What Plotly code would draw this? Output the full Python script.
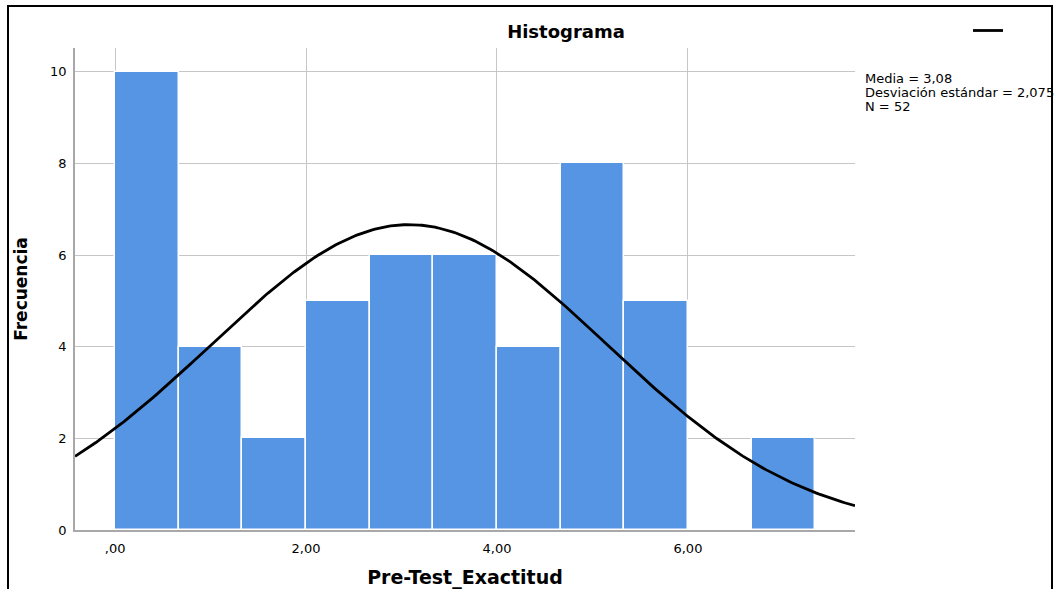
import numpy as np
import plotly.graph_objects as go

# ---- data ----
BIN_START = 0.0
BIN_WIDTH = 2.0 / 3.0
COUNTS = [10, 4, 2, 5, 6, 6, 4, 8, 5, 0, 2]
MEAN = 3.08
STD = 2.075
N = 52
X_TICKS = [0, 2, 4, 6]
X_TICK_LABELS = [",00", "2,00", "4,00", "6,00"]
Y_TICKS = [0, 2, 4, 6, 8, 10]
Y_TICK_LABELS = ["0", "2", "4", "6", "8", "10"]
X_RANGE = [-0.42, 7.75]
Y_RANGE = [0, 10.52]
STATS_LINES = ["Media = 3,08", "Desviación estándar = 2,075", "N = 52"]

centers = [BIN_START + BIN_WIDTH * (i + 0.5) for i in range(len(COUNTS))]

# fitted normal curve (SPSS overlay) from the stated mean / sd / N
xc = np.linspace(X_RANGE[0], X_RANGE[1], 300)
yc = N * BIN_WIDTH / (STD * np.sqrt(2 * np.pi)) * np.exp(-0.5 * ((xc - MEAN) / STD) ** 2)

FONT = "DejaVu Sans, Arial, sans-serif"

fig = go.Figure()
fig.add_trace(go.Bar(
    x=centers, y=COUNTS, width=[BIN_WIDTH] * len(COUNTS),
    marker=dict(color="#5595E3", line=dict(color="white", width=1.5)),
    showlegend=False, hoverinfo="x+y",
))
fig.add_trace(go.Scatter(
    x=xc, y=yc, mode="lines", line=dict(color="black", width=2.8),
    name=" ", showlegend=True,
))

W, H = 1059, 589
L, R, T, B = 75, 855, 48, 530
pw, ph = R - L, B - T

def px(x):
    return (x - L) / pw

def py(y):
    return (B - y) / ph

annotations = []
for i, line in enumerate(STATS_LINES):
    annotations.append(dict(
        xref="paper", yref="paper", x=px(863), y=py(78 + 14 * i),
        xanchor="left", yanchor="middle", align="left", showarrow=False,
        text=line, font=dict(size=13, family=FONT)))

fig.update_layout(
    width=W, height=H,
    margin=dict(l=L, r=W - R, t=T, b=H - B, pad=0),
    paper_bgcolor="white", plot_bgcolor="white",
    font=dict(family=FONT, size=13, color="black"),
    bargap=0,
    title=dict(text="<b>Histograma</b>", xref="container", x=566 / W, xanchor="center",
               yref="container", y=1 - 32 / H, yanchor="middle",
               font=dict(size=18, family=FONT)),
    xaxis=dict(range=X_RANGE, tickvals=X_TICKS, ticktext=X_TICK_LABELS,
               showgrid=True, gridcolor="#c6c6c6", gridwidth=1,
               showline=True, linecolor="#a8a8a8", linewidth=1.5,
               ticks="", zeroline=False, tickfont=dict(size=13),
               ticklabelstandoff=6, automargin=False,
               title=dict(text="<b>Pre-Test_Exactitud</b>", font=dict(size=19), standoff=22)),
    yaxis=dict(range=Y_RANGE, tickvals=Y_TICKS, ticktext=Y_TICK_LABELS,
               showgrid=True, gridcolor="#c6c6c6", gridwidth=1,
               showline=True, linecolor="#a8a8a8", linewidth=1.5,
               ticks="", zeroline=False, tickfont=dict(size=13),
               ticklabelstandoff=4, automargin=False,
               title=dict(text="<b>Frecuencia</b>", font=dict(size=17), standoff=18)),
    legend=dict(x=px(968), y=py(16), xanchor="left", yanchor="top",
                bgcolor="rgba(0,0,0,0)", font=dict(size=12)),
    shapes=[dict(type="rect", xref="paper", yref="paper",
                 x0=px(8), x1=px(1052), y0=py(640), y1=py(6),
                 line=dict(color="black", width=2), fillcolor="rgba(0,0,0,0)",
                 layer="above")],
    annotations=annotations,
)

fig.write_html("out.html")
